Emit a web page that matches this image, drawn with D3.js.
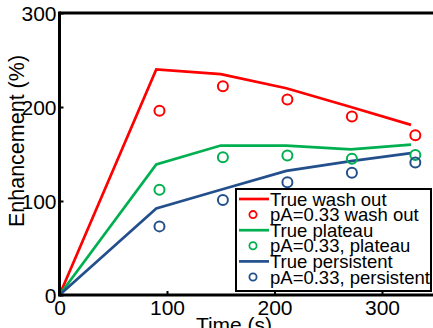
<!DOCTYPE html>
<html>
<head>
<meta charset="utf-8">
<script src="https://cdn.jsdelivr.net/npm/d3@7"></script>
<style>
  body { margin: 0; background: #fff; overflow: hidden; }
  svg { display: block; font-family: "Liberation Sans", Arial, sans-serif; }
</style>
</head>
<body>
<script>
// values
var lineTimes = [0, 90, 150, 211, 271, 327];
var dotTimes = [93, 152, 212, 272, 331];

var trueWashOut = [0, 240, 235, 220, 200, 181];
var truePlateau = [0, 139, 159, 159, 155, 160];
var truePersistent = [0, 92, 112, 132, 142.5, 151];

var pAWashOut = [196, 222, 208, 190, 170];
var pAPlateau = [112, 146.5, 148.5, 145, 149];
var pAPersistent = [73, 101, 120, 130, 141];

var xTicks = [0, 100, 200, 300];
var yTicks = [0, 100, 200, 300];

var series = [
  {line: 'True wash out', dots: 'pA=0.33 wash out', color: '#ff0000', lv: trueWashOut, dv: pAWashOut},
  {line: 'True plateau', dots: 'pA=0.33, plateau', color: '#00b050', lv: truePlateau, dv: pAPlateau},
  {line: 'True persistent', dots: 'pA=0.33, persistent', color: '#23508c', lv: truePersistent, dv: pAPersistent}
];

var width = 433, height = 328;
var x = d3.scaleLinear().domain([0, 350]).range([59.5, 435.75]);
var y = d3.scaleLinear().domain([0, 300]).range([295, 13]);

var svg = d3.select('body').append('svg')
  .attr('width', width)
  .attr('height', height);

// lines
var line = d3.line()
  .x(function(d, i) { return x(lineTimes[i]); })
  .y(function(d) { return y(d); });

series.forEach(function(s) {
  svg.append('path')
    .datum(s.lv)
    .attr('d', line)
    .attr('fill', 'none')
    .attr('stroke', s.color)
    .attr('stroke-width', 2.7);
});

series.forEach(function(s) {
  svg.selectAll(null)
    .data(s.dv)
    .enter().append('circle')
    .attr('cx', function(d, i) { return x(dotTimes[i]); })
    .attr('cy', function(d) { return y(d); })
    .attr('r', 5)
    .attr('fill', 'none')
    .attr('stroke', s.color)
    .attr('stroke-width', 2);
});

// axes
var xAxis = svg.append('g')
  .attr('transform', 'translate(0,' + y(0) + ')')
  .call(d3.axisBottom(x).tickValues(xTicks).tickSize(-4).tickPadding(5).tickFormat(d3.format('d')));
var yAxis = svg.append('g')
  .attr('transform', 'translate(' + x(0) + ',0)')
  .call(d3.axisLeft(y).tickValues(yTicks).tickSize(-4).tickPadding(3).tickFormat(d3.format('d')));

[xAxis, yAxis].forEach(function(g) {
  g.select('.domain').remove();
  g.selectAll('line').attr('stroke', '#000').attr('stroke-width', 2);
  g.selectAll('text').attr('fill', '#000').style('font-size', '21px')
    .style('font-family', '"Liberation Sans", Arial, sans-serif');
});
yAxis.selectAll('text').attr('dy', '0.36em');

// frame
svg.append('line')
  .attr('x1', x(0)).attr('x2', width)
  .attr('y1', y(0)).attr('y2', y(0))
  .attr('stroke', '#000').attr('stroke-width', 3);
svg.append('line')
  .attr('x1', x(0)).attr('x2', width)
  .attr('y1', y(300)).attr('y2', y(300))
  .attr('stroke', '#000').attr('stroke-width', 3);
svg.append('line')
  .attr('x1', x(0)).attr('x2', x(0))
  .attr('y1', y(300) - 1.5).attr('y2', y(0) + 1.5)
  .attr('stroke', '#000').attr('stroke-width', 3);

// axis titles
svg.append('text')
  .attr('transform', 'translate(24,141) rotate(-90)')
  .attr('text-anchor', 'middle')
  .style('font-size', '21.5px')
  .text('Enhancement (%)');
svg.append('text')
  .attr('x', 234)
  .attr('y', 332)
  .attr('text-anchor', 'middle')
  .style('font-size', '21px')
  .text('Time (s)');

// legend
var legend = svg.append('g');
legend.append('rect')
  .attr('x', 236).attr('y', 189)
  .attr('width', 195).attr('height', 102)
  .attr('fill', '#fff')
  .attr('stroke', '#000')
  .attr('stroke-width', 2);

var rows = [];
series.forEach(function(s) {
  rows.push({label: s.line, color: s.color, kind: 'line'});
  rows.push({label: s.dots, color: s.color, kind: 'dot'});
});

var row = legend.selectAll('g.row')
  .data(rows)
  .enter().append('g')
  .attr('class', 'row')
  .attr('transform', function(d, i) { return 'translate(0,' + (199 + i * 15.6) + ')'; });

row.filter(function(d) { return d.kind === 'line'; })
  .append('line')
  .attr('x1', 239).attr('x2', 269)
  .attr('stroke', function(d) { return d.color; })
  .attr('stroke-width', 2.7);
row.filter(function(d) { return d.kind === 'dot'; })
  .append('circle')
  .attr('cx', 253).attr('r', 3.6)
  .attr('fill', 'none')
  .attr('stroke', function(d) { return d.color; })
  .attr('stroke-width', 1.8);
row.append('text')
  .attr('x', 270)
  .attr('dy', '0.36em')
  .style('font-size', '18.5px')
  .text(function(d) { return d.label; });
</script>
</body>
</html>
